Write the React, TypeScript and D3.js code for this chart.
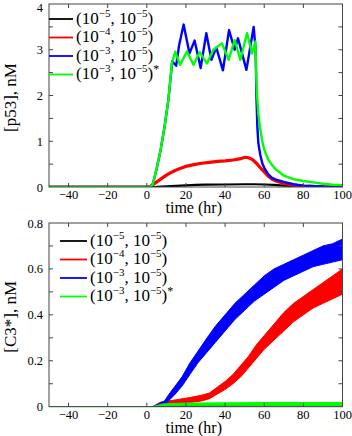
import React, { useEffect, useRef } from 'react';
import * as d3 from 'd3';

// time axis ticks shared by both panels
const timeTicks = [-40, -20, 0, 20, 40, 60, 80, 100];
const p53Ticks = [0, 1, 2, 3, 4];
const c3Ticks = [0, 0.2, 0.4, 0.6, 0.8];

// legend: (a, b) exponents of the two rates
const seriesNames = ['k1', 'k2', 'k3', 'k3*'];
const seriesColors = ['#000000', '#ff0000', '#0000ff', '#00ff00'];
const expA = [-5, -4, -3, -3];
const expB = [-5, -5, -5, -5];
const starred = [false, false, false, true];

// [p53] (nM), [time, value]
const p53Black: [number, number][] = [
  [-50, 0], [0, 0], [5, 0.005], [10, 0.015], [15, 0.025], [20, 0.035], [25, 0.045],
  [30, 0.05], [40, 0.055], [50, 0.06], [55, 0.06], [60, 0.055], [65, 0.045],
  [70, 0.03], [75, 0.02], [80, 0.01], [90, 0.003], [100, 0],
];
const p53Red: [number, number][] = [
  [-50, 0], [1, 0], [2, 0.02], [4, 0.08], [6, 0.14], [8, 0.2], [10, 0.26], [12, 0.31],
  [14, 0.35], [16, 0.39], [18, 0.42], [20, 0.45], [24, 0.49], [28, 0.52], [32, 0.54],
  [36, 0.56], [40, 0.57], [44, 0.59], [48, 0.62], [50, 0.65], [52, 0.64], [54, 0.6],
  [56, 0.52], [58, 0.42], [60, 0.33], [62, 0.24], [64, 0.17], [66, 0.13], [70, 0.08],
  [75, 0.04], [80, 0.02], [90, 0.005], [100, 0],
];
const p53Blue: [number, number][] = [
  [-50, 0], [1.5, 0], [3, 0.05], [5, 0.4], [7, 0.8], [9, 1.3], [11, 1.9], [13, 2.75],
  [15, 2.65], [16.5, 3.1], [18.8, 3.55], [21.8, 2.92], [24.4, 3.2], [27.5, 2.6],
  [30.4, 3.36], [33, 2.78], [35.5, 3.05], [38.9, 2.55], [42, 3.43], [44.9, 3.0],
  [46.6, 3.25], [50.9, 2.56], [54.6, 3.5], [55.6, 3.0], [56, 2.0], [56.5, 1.3],
  [57, 0.95], [58, 0.7], [59, 0.52], [60, 0.42], [62, 0.28], [64, 0.2], [66, 0.16],
  [70, 0.11], [75, 0.06], [80, 0.03], [90, 0.01], [100, 0],
];
const p53Green: [number, number][] = [
  [-50, 0], [1.5, 0], [3, 0.05], [5, 0.4], [7, 0.8], [9, 1.3], [11, 1.9], [12.8, 2.7],
  [14.5, 2.96], [17, 2.67], [20.5, 2.96], [23.9, 2.67], [27, 2.95], [30.7, 2.7],
  [34, 3.0], [38.4, 3.14], [41.8, 2.78], [44.9, 3.21], [47.8, 2.78], [51.2, 3.36],
  [53.8, 2.92], [55.5, 3.18], [56, 2.3], [56.5, 1.9], [57, 1.6], [58, 1.25], [59, 1.0],
  [60, 0.82], [62, 0.6], [64, 0.48], [66, 0.38], [70, 0.25], [75, 0.17], [80, 0.13],
  [85, 0.1], [90, 0.07], [95, 0.05], [100, 0.04],
];

// [C3*] (nM), noisy bands: [time, low, high]
const c3Black: [number, number, number][] = [
  [-50, 0, 0], [3, 0, 0], [10, 0.002, 0.008], [50, 0.003, 0.01], [100, 0.003, 0.01],
];
const c3Red: [number, number, number][] = [
  [-50, 0, 0], [3, 0, 0], [7, 0.005, 0.02], [15, 0.012, 0.03], [22, 0.018, 0.04],
  [28, 0.025, 0.05], [32, 0.035, 0.06], [36, 0.055, 0.085], [40, 0.075, 0.11],
  [44, 0.1, 0.14], [48, 0.13, 0.18], [52, 0.17, 0.22], [56, 0.21, 0.27],
  [60, 0.25, 0.31], [65, 0.29, 0.36], [70, 0.33, 0.41], [75, 0.37, 0.45],
  [80, 0.4, 0.48], [85, 0.43, 0.51], [90, 0.45, 0.54], [95, 0.47, 0.57], [100, 0.49, 0.6],
];
const c3Blue: [number, number, number][] = [
  [-50, 0, 0], [3, 0, 0], [6, 0.003, 0.012], [9, 0.01, 0.025], [11, 0.025, 0.05],
  [14, 0.05, 0.085], [18, 0.09, 0.13], [22, 0.14, 0.19], [26, 0.19, 0.24],
  [30, 0.23, 0.29], [35, 0.28, 0.35], [40, 0.33, 0.4], [45, 0.38, 0.45],
  [50, 0.42, 0.49], [55, 0.46, 0.53], [60, 0.49, 0.57], [65, 0.52, 0.6],
  [70, 0.55, 0.62], [75, 0.57, 0.64], [80, 0.59, 0.66], [85, 0.61, 0.68],
  [90, 0.62, 0.7], [95, 0.63, 0.71], [100, 0.64, 0.73],
];
const c3Green: [number, number, number][] = [
  [-50, 0, 0], [3, 0, 0], [8, 0.003, 0.012], [20, 0.004, 0.016], [60, 0.005, 0.018],
  [100, 0.005, 0.018],
];

const W = 352;
const H = 436;
const FONT = '"Liberation Serif", "DejaVu Serif", serif';
const FRAME = '#444';

export default function App() {
  const ref = useRef<SVGSVGElement>(null);

  useEffect(() => {
    const svg = d3.select(ref.current);
    svg.selectAll('*').remove();

    const left = 49;
    const right = 342.5;
    const x = d3.scaleLinear().domain([-50, 100]).range([left, right]);

    const panel = (
      top: number,
      bottom: number,
      yMax: number,
      labels: number[],
      minor: number,
      fmt: (v: number) => string,
      title: string,
      legendX: number,
      legendY: number,
      legendLen: number,
      draw: (g: any, y: d3.ScaleLinear<number, number>) => void
    ) => {
      const y = d3.scaleLinear().domain([0, yMax]).range([bottom, top]);
      const g = svg.append('g');

      // data first, frame on top
      const clipId = 'clip' + Math.round(top);
      g.append('clipPath')
        .attr('id', clipId)
        .append('rect')
        .attr('x', left)
        .attr('y', top)
        .attr('width', right - left)
        .attr('height', bottom - top);
      const plot = g.append('g').attr('clip-path', `url(#${clipId})`);
      draw(plot, y);

      g.append('rect')
        .attr('x', left)
        .attr('y', top)
        .attr('width', right - left)
        .attr('height', bottom - top)
        .attr('fill', 'none')
        .attr('stroke', FRAME)
        .attr('stroke-width', 1);

      // inward ticks on all four sides
      const tk = 4;
      timeTicks
        .filter(t => t < 100)
        .forEach(t => {
          g.append('line').attr('x1', x(t)).attr('x2', x(t)).attr('y1', bottom).attr('y2', bottom - tk)
            .attr('stroke', FRAME);
          g.append('line').attr('x1', x(t)).attr('x2', x(t)).attr('y1', top).attr('y2', top + tk)
            .attr('stroke', FRAME);
        });
      d3.range(minor, yMax - 1e-9, minor).forEach(v => {
        g.append('line').attr('x1', left).attr('x2', left + tk).attr('y1', y(v)).attr('y2', y(v))
          .attr('stroke', FRAME);
        g.append('line').attr('x1', right).attr('x2', right - tk).attr('y1', y(v)).attr('y2', y(v))
          .attr('stroke', FRAME);
      });

      // tick labels
      g.selectAll('.xl')
        .data(timeTicks)
        .enter()
        .append('text')
        .attr('x', d => x(d))
        .attr('y', bottom + 12)
        .attr('text-anchor', 'middle')
        .attr('font-family', FONT)
        .attr('font-size', 12.5)
        .text(d => (d < 0 ? '\u2212' + Math.abs(d) : String(d)));
      g.selectAll('.yl')
        .data(labels)
        .enter()
        .append('text')
        .attr('x', 43)
        .attr('y', d => Math.max(y(d) + 4.5, 12))
        .attr('text-anchor', 'end')
        .attr('font-family', FONT)
        .attr('font-size', 12.5)
        .text(d => fmt(d));

      // axis titles
      g.append('text')
        .attr('x', (left + right) / 2 - 2)
        .attr('y', bottom + 26)
        .attr('text-anchor', 'middle')
        .attr('font-family', FONT)
        .attr('font-size', 16)
        .text('time (hr)');
      g.append('text')
        .attr('transform', `translate(16, ${(top + bottom) / 2 + 2}) rotate(-90)`)
        .attr('text-anchor', 'middle')
        .attr('font-family', FONT)
        .attr('font-size', 17)
        .text(title);

      // legend
      seriesNames.forEach((_, i) => {
        const ly = legendY + i * 18.5;
        g.append('line')
          .attr('x1', legendX)
          .attr('x2', legendX + legendLen)
          .attr('y1', ly)
          .attr('y2', ly)
          .attr('stroke', seriesColors[i])
          .attr('stroke-width', 1.8);
        const t = g.append('text')
          .attr('x', legendX + legendLen + 3)
          .attr('y', ly + 4.5)
          .attr('font-family', FONT)
          .attr('font-size', 17);
        t.append('tspan').text('(10');
        t.append('tspan').attr('dy', -7).attr('font-size', 11).text('\u2212' + Math.abs(expA[i]));
        t.append('tspan').attr('dy', 7).text(', 10');
        t.append('tspan').attr('dy', -7).attr('font-size', 11).text('\u2212' + Math.abs(expB[i]));
        t.append('tspan').attr('dy', 7).text(')');
        if (starred[i]) t.append('tspan').attr('dy', -6).attr('font-size', 12).text('*');
      });
    };

    const lineOf = (y: d3.ScaleLinear<number, number>) =>
      d3.line<[number, number]>().x(d => x(d[0])).y(d => y(d[1]));
    const bandOf = (y: d3.ScaleLinear<number, number>) =>
      d3.area<[number, number, number]>().x(d => x(d[0])).y0(d => y(d[1])).y1(d => y(d[2]));

    // top panel: [p53]
    panel(4, 187, 4, p53Ticks, 0.5, d => String(d), '[p53], nM', 49, 19, 24, (g, y) => {
      const ln = lineOf(y);
      g.append('path').attr('d', ln(p53Black)).attr('fill', 'none').attr('stroke', seriesColors[0])
        .attr('stroke-width', 2.2);
      g.append('path').attr('d', ln(p53Red)).attr('fill', 'none').attr('stroke', seriesColors[1])
        .attr('stroke-width', 3.2);
      g.append('path').attr('d', ln(p53Blue)).attr('fill', 'none').attr('stroke', seriesColors[2])
        .attr('stroke-width', 2.4).attr('stroke-linejoin', 'round');
      g.append('path').attr('d', ln(p53Green)).attr('fill', 'none').attr('stroke', seriesColors[3])
        .attr('stroke-width', 2.4).attr('stroke-linejoin', 'round');
    });

    // bottom panel: [C3*]
    panel(223, 406.7, 0.8, c3Ticks, 0.1, d => (d === 0 ? '0' : d.toFixed(1)), '[C3*], nM', 60, 241, 27,
      (g, y) => {
        const band = bandOf(y);
        [c3Black, c3Red, c3Blue, c3Green].forEach((s, i) => {
          g.append('path').attr('d', band(s)).attr('fill', seriesColors[i])
            .attr('stroke', seriesColors[i]).attr('stroke-width', 1);
        });
      });
  }, []);

  return <svg ref={ref} width={W} height={H} style={{ display: 'block', position: 'absolute', left: 0, top: 0 }} />;
}
